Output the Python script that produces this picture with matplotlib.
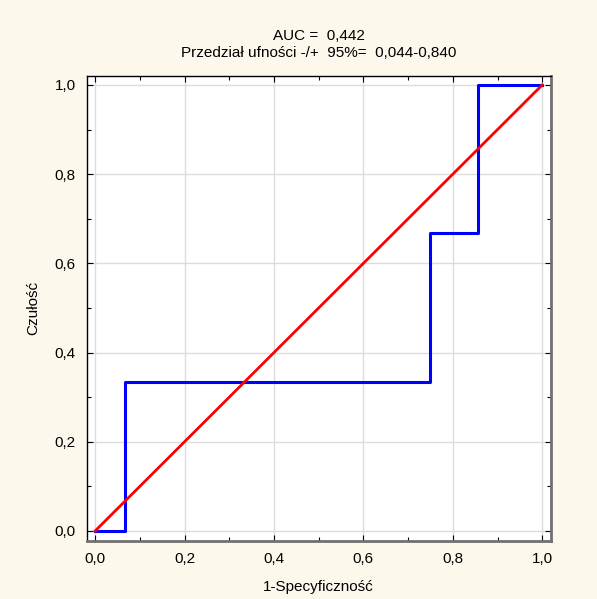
import matplotlib.pyplot as plt
from matplotlib.ticker import MultipleLocator, FuncFormatter

plt.rcParams['font.family'] = ['Liberation Sans', 'DejaVu Sans']
plt.rcParams['font.size'] = 11

# dane krzywej ROC
fpr = [0.0, 0.0667, 0.0667, 0.75, 0.75, 0.857, 0.857, 1.0]
tpr = [0.0, 0.0, 0.333, 0.333, 0.667, 0.667, 1.0, 1.0]
ref_x = [0.0, 1.0]
ref_y = [0.0, 1.0]
auc_txt = 'AUC =  0,442'
ci_txt = 'Przedział ufności -/+  95%=  0,044-0,840'

fig = plt.figure(figsize=(5.97, 5.99), dpi=100, facecolor='#fdf8ec')
ax = fig.add_axes([0.1452, 0.0973, 0.7773, 0.7758])
ax.set_facecolor('white')

ax.plot(fpr, tpr, color='#0000ff', lw=2.2, zorder=3)
ax.plot(ref_x, ref_y, color='#ff0000', lw=2.0, zorder=4)

ax.set_xlim(-0.019, 1.019)
ax.set_ylim(-0.022, 1.020)

ax.xaxis.set_major_locator(MultipleLocator(0.2))
ax.yaxis.set_major_locator(MultipleLocator(0.2))
ax.xaxis.set_minor_locator(MultipleLocator(0.1))
ax.yaxis.set_minor_locator(MultipleLocator(0.1))
fmt = FuncFormatter(lambda v, p: f'{v:.1f}'.replace('.', ','))
ax.xaxis.set_major_formatter(fmt)
ax.yaxis.set_major_formatter(fmt)

ax.tick_params(which='both', direction='in', top=True, right=True,
               width=0.8, colors='black', labelsize=11)
ax.tick_params(which='major', length=4, pad=8)
ax.tick_params(which='minor', length=3)

ax.grid(True, which='major', color='#dcdcdc', lw=1.0, zorder=0)
ax.set_axisbelow(True)

ax.spines['top'].set_color('black')
ax.spines['left'].set_color('black')
ax.spines['top'].set_linewidth(1.0)
ax.spines['left'].set_linewidth(1.0)
ax.spines['bottom'].set_color('#707070')
ax.spines['right'].set_color('#707070')
ax.spines['bottom'].set_linewidth(2.0)
ax.spines['right'].set_linewidth(2.0)

ax.set_xlabel('1-Specyficzność', labelpad=10)
ax.set_ylabel('Czułość', labelpad=10)
ax.set_title(auc_txt + '\n' + ci_txt, pad=14, fontsize=11, linespacing=1.2)

fig.savefig('out.png', dpi=100, facecolor=fig.get_facecolor())
